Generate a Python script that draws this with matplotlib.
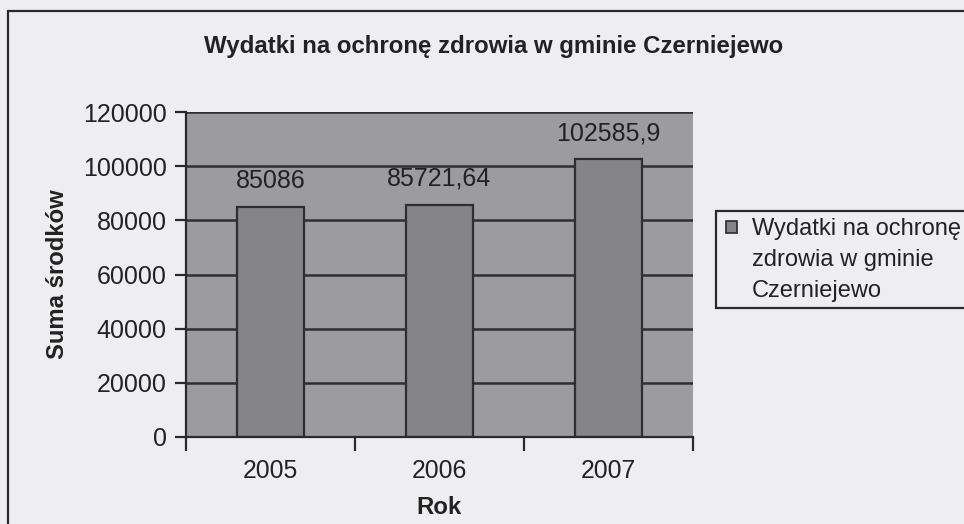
import matplotlib
matplotlib.use('Agg')
import matplotlib.pyplot as plt
from matplotlib.patches import Rectangle

lata = ['2005', '2006', '2007']
wydatki = [85086, 85721.64, 102585.9]
y_ticks = [0, 20000, 40000, 60000, 80000, 100000, 120000]

tytul = 'Wydatki na ochronę zdrowia w gminie Czerniejewo'
legenda = 'Wydatki na ochronę\nzdrowia w gminie\nCzerniejewo'

plt.rcParams['font.family'] = ['Liberation Sans', 'DejaVu Sans']

W, H = 964, 524
fig = plt.figure(figsize=(W / 100, H / 100), dpi=100)
fig.patch.set_facecolor('#eeeef0')


def fx(px):
    return px / W


def fy(py):
    return 1 - py / H


# ramka wykresu (wychodzi poza kadr z prawej i z dołu)
fig.patches.append(Rectangle((fx(8), fy(600)), fx(1100), fy(11) - fy(600),
                             transform=fig.transFigure, fill=False,
                             edgecolor='#2a2a2a', linewidth=1.6))

ax = fig.add_axes([fx(186), fy(437), fx(693) - fx(186), fy(112) - fy(437)])
ax.set_facecolor('#9c9ca0')

x = list(range(len(lata)))
ax.set_axisbelow(True)
ax.yaxis.grid(True, color='#2d2d32', linewidth=1.8)
bars = ax.bar(x, wydatki, width=0.40, color='#848489', edgecolor='#2d2d32', linewidth=1.6, zorder=2)

for xi, v in zip(x, wydatki):
    txt = ('%s' % v).replace('.', ',')
    ax.annotate(txt, (xi, v), xytext=(0, 10), textcoords='offset points',
                ha='center', va='bottom', fontsize=18, color='#222222')

ax.set_xlim(-0.5, 2.5)
ax.set_ylim(0, 120000)
ax.set_yticks(y_ticks)
ax.set_yticklabels([str(t) for t in y_ticks])
ax.set_xticks([-0.5, 0.5, 1.5, 2.5])
ax.set_xticklabels([])
ax.set_xticks(x, minor=True)
ax.set_xticklabels(lata, minor=True)
ax.tick_params(axis='x', which='major', length=10, width=1.6, color='#2a2a2a', direction='out')
ax.tick_params(axis='x', which='minor', length=0, pad=16, labelsize=17.8, labelcolor='#222222')
ax.tick_params(axis='y', length=8, width=1.6, color='#2a2a2a', pad=6, labelsize=18, labelcolor='#222222')

for s in ['top', 'right']:
    ax.spines[s].set_visible(False)
for s in ['left', 'bottom']:
    ax.spines[s].set_color('#2a2a2a')
    ax.spines[s].set_linewidth(1.6)

ax.set_xlabel('Rok', fontsize=17.3, fontweight='bold', color='#222222', labelpad=9)
ax.set_ylabel('Suma środków', fontsize=17.2, fontweight='bold', color='#222222', labelpad=10)

fig.text(fx(494), fy(46), tytul, ha='center', va='center', fontsize=17.3,
         fontweight='bold', color='#222222')

# legenda
fig.patches.append(Rectangle((fx(716), fy(308)), fx(400), fy(211) - fy(308),
                             transform=fig.transFigure, facecolor='#eeeef0',
                             edgecolor='#2a2a2a', linewidth=1.6))
fig.patches.append(Rectangle((fx(726), fy(233)), fx(11), fy(221) - fy(233),
                             transform=fig.transFigure, facecolor='#848489',
                             edgecolor='#2a2a2a', linewidth=1.2))
fig.text(fx(752), fy(260), legenda, ha='left', va='center', fontsize=17,
         color='#222222', linespacing=1.52, transform=fig.transFigure)

fig.savefig('out.png', dpi=100, facecolor=fig.get_facecolor())
